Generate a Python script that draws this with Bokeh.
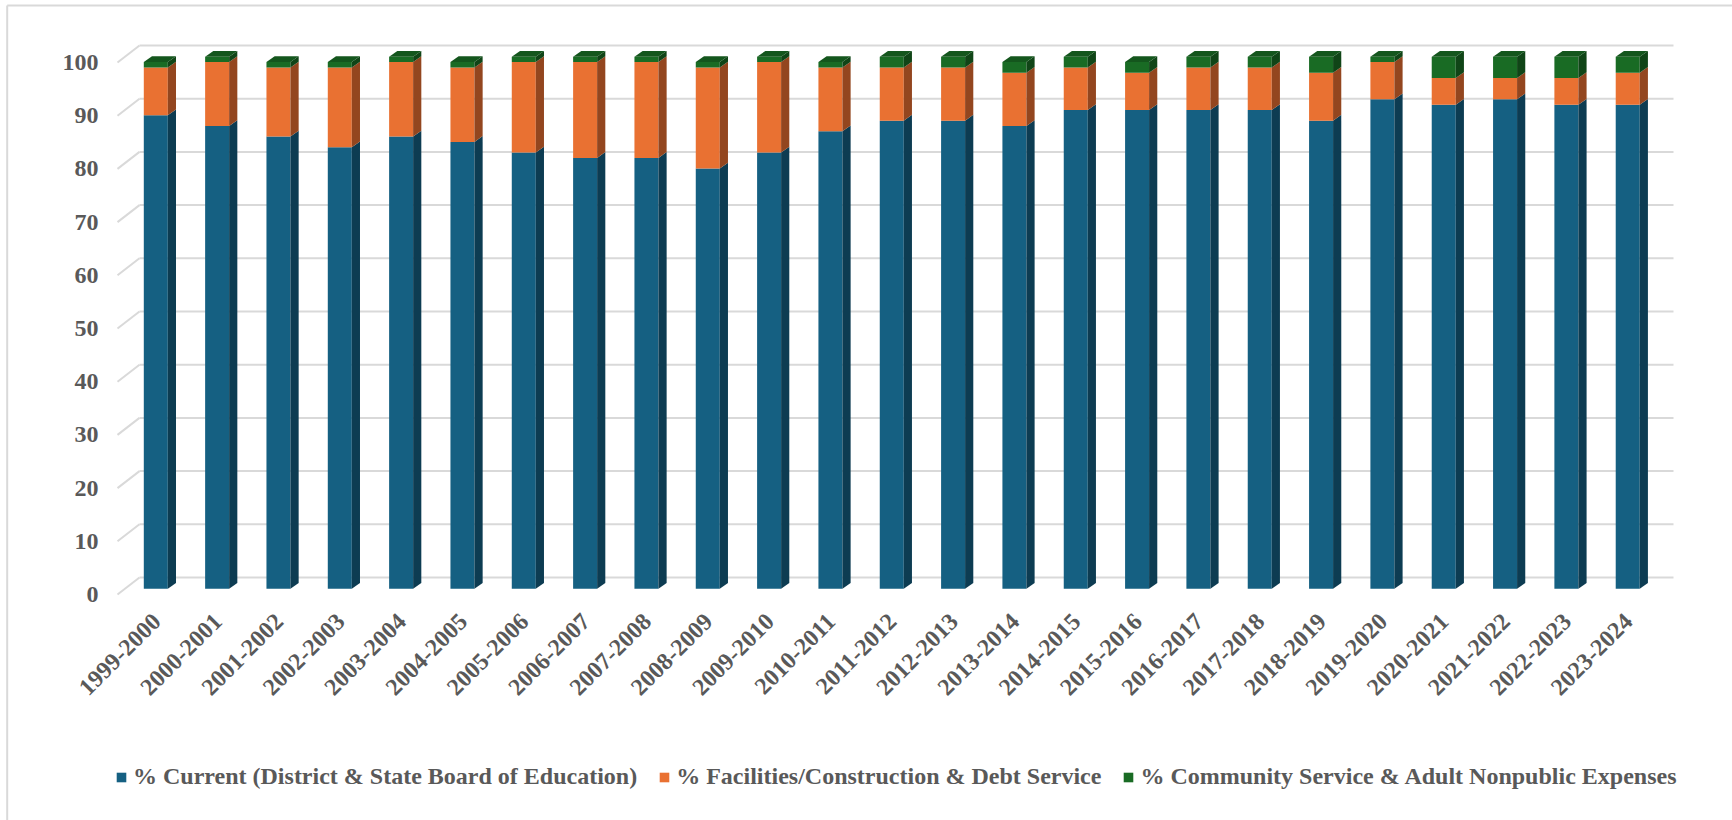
import numpy as np
from bokeh.plotting import figure
from bokeh.models import Range1d, ColumnDataSource, Legend, LegendItem
from bokeh.core.properties import value
from bokeh.embed import file_html
from bokeh.resources import INLINE

# ---------------- data ----------------
categories = ["1999-2000", "2000-2001", "2001-2002", "2002-2003", "2003-2004",
              "2004-2005", "2005-2006", "2006-2007", "2007-2008", "2008-2009",
              "2009-2010", "2010-2011", "2011-2012", "2012-2013", "2013-2014",
              "2014-2015", "2015-2016", "2016-2017", "2017-2018", "2018-2019",
              "2019-2020", "2020-2021", "2021-2022", "2022-2023", "2023-2024"]
current = [89, 87, 85, 83, 85, 84, 82, 81, 81, 79, 82, 86, 88, 88, 87,
           90, 90, 90, 90, 88, 92, 91, 92, 91, 91]
facilities = [9, 12, 13, 15, 14, 14, 17, 18, 18, 19, 17, 12, 10, 10, 10,
              8, 7, 8, 8, 9, 7, 5, 4, 5, 6]
community = [1, 1, 1, 1, 1, 1, 1, 1, 1, 1, 1, 1, 2, 2, 2,
             2, 2, 2, 2, 3, 1, 4, 4, 4, 3]
series_names = ["% Current (District & State Board of Education)",
                "% Facilities/Construction & Debt Service",
                "% Community Service & Adult Nonpublic Expenses"]
y_ticks = [0, 10, 20, 30, 40, 50, 60, 70, 80, 90, 100]

# ---------------- styles / layout ----------------
W, H = 1732, 820
X0_PX, CAT_PX = 155.3, 61.33      # first category centre, category step (px)
Y0_PX, UNIT_PX = 588.3, 5.32      # bar baseline (px from top), px per unit
front_cols = ["#156082", "#E97132", "#196B24"]
side_cols = ["#0d3c52", "#93461f", "#104517"]
top_cols = ["#114f6b", "#c45f2a", "#14561d"]
grid_col = "#d9d9d9"
txt_col = "#595959"
FONT = "Liberation Serif"

x_start = -X0_PX / CAT_PX
x_end = x_start + W / CAT_PX
y_end = Y0_PX / UNIT_PX
y_start = y_end - H / UNIT_PX


def px_x(px):
    return x_start + px / CAT_PX


def px_y(px):
    return y_end - px / UNIT_PX


bw = 24.0 / CAT_PX        # bar front width
ddx = 8.2 / CAT_PX        # bar depth (x)
ddy = 5.8 / UNIT_PX       # bar depth (y)
back_dy = 11.3 / UNIT_PX  # back wall offset above bar front
front_dy = 5.7 / UNIT_PX  # axis plane offset below bar front
back_left, back_right, front_left = px_x(139), px_x(1673), px_x(117)

p = figure(width=W, height=H, output_backend="svg", toolbar_location=None,
           x_range=Range1d(x_start, x_end), y_range=Range1d(y_start, y_end),
           min_border=0, outline_line_color=None)
p.axis.visible = False
p.grid.visible = False
p.background_fill_color = "white"
p.border_fill_color = "white"

# chart-area border (left and top)
p.segment(x0=[px_x(6.7), px_x(6.7)], y0=[px_y(5), px_y(5)],
          x1=[px_x(6.7), x_end], y1=[y_start, px_y(5)],
          line_color=grid_col, line_width=2)

# back-wall gridlines and left wall diagonals
yt = np.array(y_ticks, dtype=float)
p.segment(x0=[back_left] * len(yt), y0=yt + back_dy,
          x1=[back_right] * len(yt), y1=yt + back_dy,
          line_color=grid_col, line_width=2)
p.segment(x0=[front_left] * len(yt), y0=yt - front_dy,
          x1=[back_left] * len(yt), y1=yt + back_dy,
          line_color=grid_col, line_width=2)

# y tick labels
p.text(x=[px_x(98)] * len(yt), y=yt - front_dy, text=[str(t) for t in y_ticks],
       text_align="right", text_baseline="middle", text_color=txt_col,
       text_font=value(FONT), text_font_style="bold", text_font_size="24px")

# bars
idx = np.arange(len(categories), dtype=float)
vals = [np.array(current, float), np.array(facilities, float), np.array(community, float)]
tops = np.cumsum(vals, axis=0)
bottoms = tops - np.array(vals)
front_renderers = []
for k in range(3):
    b, t = bottoms[k], tops[k]
    src = ColumnDataSource(dict(left=idx - bw / 2, right=idx + bw / 2, bottom=b, top=t))
    r = p.quad(left="left", right="right", bottom="bottom", top="top", source=src,
               fill_color=front_cols[k], line_color=None)
    front_renderers.append(r)
    xr = idx + bw / 2
    side_xs = [[x, x + ddx, x + ddx, x] for x in xr]
    side_ys = [[bb, bb + ddy, tt + ddy, tt] for bb, tt in zip(b, t)]
    p.patches(xs=side_xs, ys=side_ys, fill_color=side_cols[k], line_color=None)

# top faces (topmost series)
tt_all = tops[-1]
top_xs = [[x - bw / 2, x - bw / 2 + ddx, x + bw / 2 + ddx, x + bw / 2] for x in idx]
top_ys = [[t, t + ddy, t + ddy, t] for t in tt_all]
p.patches(xs=top_xs, ys=top_ys, fill_color=top_cols[2], line_color=None)

# x category labels (rotated)
p.text(x=idx - 0.07, y=[px_y(612)] * len(idx), text=categories, angle=np.pi / 4,
       text_align="right", text_baseline="top", text_color=txt_col,
       text_font=value(FONT), text_font_style="bold", text_font_size="24px")

legend = Legend(items=[LegendItem(label=n, renderers=[r]) for n, r in zip(series_names, front_renderers)],
                orientation="horizontal", location=(115, 30),
                glyph_width=12, glyph_height=12, label_standoff=6, spacing=21,
                padding=0, margin=0, border_line_color=None, background_fill_alpha=0,
                label_text_font=FONT, label_text_font_style="bold",
                label_text_font_size="24px", label_text_color=txt_col)
p.add_layout(legend)

open("out.html", "w").write(file_html(p, INLINE))
